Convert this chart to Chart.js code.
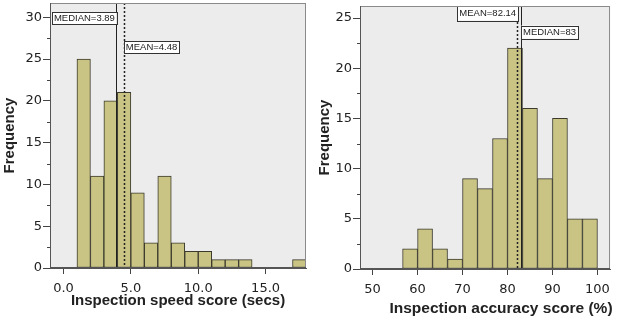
<!DOCTYPE html>
<html><head><meta charset="utf-8">
<script src="https://cdn.jsdelivr.net/npm/chart.js@4.4.1/dist/chart.umd.min.js"></script>
<style>
html,body{margin:0;padding:0;background:#fff;}
#wrap{position:relative;width:617px;height:317px;overflow:hidden;}
#c1{position:absolute;left:0;top:0;}
#c2{position:absolute;left:308px;top:0;}
</style></head><body>
<div id="wrap"><canvas id="c1" width="308" height="317"></canvas><canvas id="c2" width="309" height="317"></canvas></div>
<script>
// ---- Left histogram: inspection speed ----
const speedBinStart = [1, 2, 3, 4, 5, 6, 7, 8, 9, 10, 11, 12, 13, 14, 15, 16, 17];
const speedFreq     = [25, 11, 20, 21, 9, 3, 11, 3, 2, 2, 1, 1, 1, 0, 0, 0, 1];
const speedBinWidth = 1;
const speedMean = 4.48;
const speedMedian = 3.89;
const speedXTitle = 'Inspection speed score (secs)';

// ---- Right histogram: inspection accuracy ----
const accBinStart = [56.67, 60, 63.33, 66.67, 70, 73.33, 76.67, 80, 83.33, 86.67, 90, 93.33, 96.67];
const accFreq     = [2, 4, 2, 1, 9, 8, 13, 22, 16, 9, 15, 5, 5];
const accBinWidth = 10 / 3;
const accMean = 82.14;
const accMedian = 83;
const accXTitle = 'Inspection accuracy score (%)';

const yTitle = 'Frequency';

const FONT = "'Liberation Sans', Arial, Helvetica, sans-serif";
const TICKFONT = "'DejaVu Sans', sans-serif";
const TXT = '#222';
const BAR_FILL = '#c9c384';
const BAR_EDGE = '#3b3a2c';
const PLOT_BG = '#ececec';

const decor = {
  id: 'decor',
  beforeDraw(chart) {
    const a = chart.chartArea, ctx = chart.ctx;
    ctx.save();
    ctx.fillStyle = PLOT_BG;
    ctx.fillRect(a.left, a.top, a.right - a.left, a.bottom - a.top);
    ctx.restore();
  },
  afterDatasetsDraw(chart, args, o) {
    const a = chart.chartArea, ctx = chart.ctx;
    const xs = chart.scales.x, ys = chart.scales.y;
    ctx.save();
    for (const ln of o.lines) {
      const px = Math.round(xs.getPixelForValue(ln.value)) + 0.5;
      ctx.beginPath();
      ctx.strokeStyle = '#222';
      ctx.lineWidth = ln.dotted ? 1.5 : 1;
      ctx.setLineDash(ln.dotted ? [2, 2] : []);
      ctx.moveTo(px, a.top);
      ctx.lineTo(px, a.bottom);
      ctx.stroke();
    }
    ctx.setLineDash([]);
    ctx.textBaseline = 'middle';
    for (const ln of o.lines) {
      ctx.font = ln.fontSize + 'px ' + FONT;
      const px = xs.getPixelForValue(ln.value);
      const cy = ys.getPixelForValue(ln.labelY);
      const txt = ln.label;
      const w = ctx.measureText(txt).width + 4;
      const h = ln.boxH;
      const x0 = ln.side === 'left' ? px - w + 1 : px;
      const y0 = cy - h / 2;
      ctx.fillStyle = '#fff';
      ctx.fillRect(x0, y0, w, h);
      ctx.strokeStyle = '#333';
      ctx.lineWidth = 1;
      ctx.strokeRect(Math.round(x0) + 0.5, Math.round(y0) + 0.5, Math.round(w), Math.round(h));
      ctx.fillStyle = TXT;
      ctx.textAlign = 'left';
      ctx.fillText(txt, x0 + 2, cy + 0.5);
    }
    ctx.restore();
  },
  afterDraw(chart, args, o) {
    const a = chart.chartArea, ctx = chart.ctx;
    const ys = chart.scales.y;
    ctx.save();
    ctx.strokeStyle = '#8a8a8a';
    ctx.lineWidth = 1;
    ctx.strokeRect(a.left + 0.5, a.top + 0.5, a.right - a.left - 1, a.bottom - a.top - 1);
    ctx.strokeStyle = '#555';
    ctx.beginPath();
    ctx.moveTo(a.left + 0.5, a.top);
    ctx.lineTo(a.left + 0.5, a.bottom);
    ctx.moveTo(a.left, a.bottom - 0.5);
    ctx.lineTo(a.right, a.bottom - 0.5);
    ctx.stroke();
    // minor y ticks halfway between labelled ticks
    ctx.strokeStyle = '#444';
    const t = ys.ticks.map(k => k.value);
    const step = t[1] - t[0];
    for (let i = 0; i < t.length; i++) {
      const v = t[i] + step / 2;
      if (v > ys.max) break;
      const py = Math.round(ys.getPixelForValue(v)) + 0.5;
      ctx.beginPath();
      ctx.moveTo(a.left - 3, py);
      ctx.lineTo(a.left, py);
      ctx.stroke();
    }
    ctx.fillStyle = TXT;
    ctx.font = 'bold ' + o.xTitleSize + 'px ' + FONT;
    ctx.textAlign = 'center';
    ctx.textBaseline = 'alphabetic';
    ctx.fillText(o.xTitle, o.xTitleX, o.xTitleY);
    ctx.restore();
  }
};

function makeChart(canvas, cfg) {
  return new Chart(canvas, {
    type: 'bar',
    data: {
      datasets: [{
        data: cfg.starts.map((s, i) => ({ x: s + cfg.width / 2, y: cfg.freq[i] })),
        backgroundColor: BAR_FILL,
        borderColor: BAR_EDGE,
        borderWidth: 1,
        borderSkipped: false,
        barPercentage: 1,
        categoryPercentage: 1
      }]
    },
    options: {
      responsive: false,
      animation: false,
      devicePixelRatio: 1,
      layout: { padding: { left: 0, right: cfg.padRight, top: cfg.padTop, bottom: 0 } },
      plugins: {
        legend: { display: false },
        tooltip: { enabled: false },
        decor: {
          lines: cfg.lines,
          xTitle: cfg.xTitle, xTitleX: cfg.xTitleX, xTitleY: cfg.xTitleY, xTitleSize: cfg.xTitleSize
        }
      },
      scales: {
        x: {
          type: 'linear', min: cfg.xMin, max: cfg.xMax, offset: false,
          ticks: {
            stepSize: cfg.xStep, includeBounds: false, autoSkip: false, maxRotation: 0,
            color: TXT, font: { family: TICKFONT, size: 13 }, padding: 7,
            callback: cfg.xFmt
          },
          grid: { drawOnChartArea: false, offset: false, tickLength: 6, color: '#444', tickColor: '#444' },
          border: { color: '#555' },
          afterFit: s => { s.height = cfg.xH; }
        },
        y: {
          min: 0, max: cfg.yMax,
          ticks: {
            stepSize: 5, includeBounds: false, color: TXT,
            font: { family: TICKFONT, size: 13, lineHeight: 0.2 }, padding: 1
          },
          grid: { drawOnChartArea: false, tickLength: 7, color: '#444', tickColor: '#444' },
          border: { color: '#555' },
          title: {
            display: true, text: yTitle, color: TXT,
            font: { family: FONT, size: 15, weight: 'bold' },
            padding: { top: cfg.yTitlePad, bottom: 0 }
          },
          afterFit: s => { s.width = cfg.yW; }
        }
      }
    },
    plugins: [decor]
  });
}

makeChart(document.getElementById('c1'), {
  starts: speedBinStart, freq: speedFreq, width: speedBinWidth,
  xMin: -1, xMax: 18, xStep: 5, xFmt: v => Number(v).toFixed(1),
  yMax: 31.7, padRight: 2, padTop: 3, xH: 49, yW: 50, yTitlePad: 1,
  xTitle: speedXTitle, xTitleX: 178, xTitleY: 305, xTitleSize: 15,
  lines: [
    { value: speedMedian, dotted: false, label: 'MEDIAN=' + speedMedian, side: 'left', labelY: 29.9, boxH: 12, fontSize: 9.5 },
    { value: speedMean, dotted: true, label: 'MEAN=' + speedMean, side: 'right', labelY: 26.4, boxH: 12, fontSize: 9.5 }
  ]
});

makeChart(document.getElementById('c2'), {
  starts: accBinStart, freq: accFreq, width: accBinWidth,
  xMin: 47.2, xMax: 102.8, xStep: 10, xFmt: v => String(v),
  yMax: 26.2, padRight: 3, padTop: 6, xH: 48, yW: 52, yTitlePad: 8,
  xTitle: accXTitle, xTitleX: 193, xTitleY: 313, xTitleSize: 15.5,
  lines: [
    { value: accMean, dotted: true, label: 'MEAN=' + accMean, side: 'left', labelY: 25.5, boxH: 15, fontSize: 9.5 },
    { value: accMedian, dotted: false, label: 'MEDIAN=' + accMedian, side: 'right', labelY: 23.6, boxH: 13, fontSize: 9.5 }
  ]
});
</script>
</body></html>
